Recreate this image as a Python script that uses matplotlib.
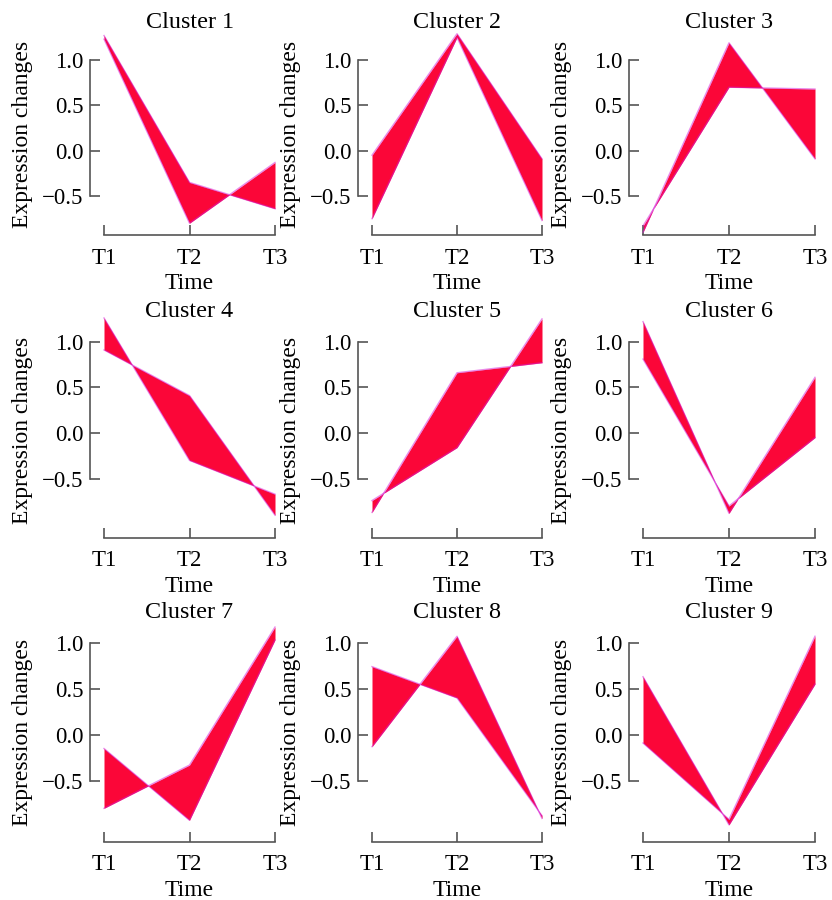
import numpy as np
import matplotlib
matplotlib.use('Agg')
import matplotlib.pyplot as plt

plt.rcParams['font.family'] = ['Liberation Serif', 'DejaVu Serif']
plt.rcParams['font.size'] = 16.5

# time points and cluster names
times = ['T1', 'T2', 'T3']
titles = ['Cluster %d' % i for i in range(1, 10)]

# the two edge profiles of each cluster band
c1_a = [1.27, -0.35, -0.64]
c1_b = [1.23, -0.80, -0.13]
c2_a = [-0.05, 1.29, -0.09]
c2_b = [-0.75, 1.25, -0.77]
c3_a = [-0.83, 0.70, 0.68]
c3_b = [-0.90, 1.19, -0.09]
c4_a = [1.26, -0.30, -0.67]
c4_b = [0.91, 0.41, -0.90]
c5_a = [-0.74, -0.16, 1.25]
c5_b = [-0.87, 0.66, 0.77]
c6_a = [1.22, -0.88, 0.61]
c6_b = [0.81, -0.80, -0.05]
c7_a = [-0.15, -0.93, 1.03]
c7_b = [-0.80, -0.33, 1.17]
c8_a = [0.74, 0.40, -0.88]
c8_b = [-0.13, 1.07, -0.91]
c9_a = [0.63, -0.98, 0.55]
c9_b = [-0.09, -0.92, 1.07]

bands = [(c1_a, c1_b), (c2_a, c2_b), (c3_a, c3_b),
         (c4_a, c4_b), (c5_a, c5_b), (c6_a, c6_b),
         (c7_a, c7_b), (c8_a, c8_b), (c9_a, c9_b)]

W, H = 832, 900
fig = plt.figure(figsize=(W / 100, H / 100), dpi=100)

# layout in pixels: column x of T1 and T3, row (top px, bottom px, ylim)
cols = [(104, 275), (372, 542), (643, 815)]
rows = [(33, 235, -0.93, 1.298), (322, 538, -1.15, 1.216), (623, 842, -1.166, 1.214)]

spine_col = '#555555'
x = np.arange(3)

for i, (a, b) in enumerate(bands):
    r, c = divmod(i, 3)
    x0, x1 = cols[c]
    top, bot, ylo, yhi = rows[r]
    ax = fig.add_axes([x0 / W, 1 - bot / H, (x1 - x0) / W, (bot - top) / H])

    ax.fill_between(x, a, b, color='#fb0638', lw=0, clip_on=False)
    ax.plot(x, a, color='#d41ad6', lw=1.0, alpha=0.5, clip_on=False)
    ax.plot(x, b, color='#d41ad6', lw=1.0, alpha=0.5, clip_on=False)

    ax.set_xlim(0, 2)
    ax.set_ylim(ylo, yhi)
    ax.set_xticks(x)
    ax.set_xticklabels(times)
    ax.set_yticks([-0.5, 0.0, 0.5, 1.0])
    ax.set_yticklabels(['\u22120.5', '0.0', '0.5', '1.0'])

    for s in ['top', 'right']:
        ax.spines[s].set_visible(False)
    ax.spines['left'].set_position(('outward', 10))
    ax.spines['left'].set_bounds(-0.5, 1.0)
    ax.spines['bottom'].set_bounds(0, 2)
    for s in ['left', 'bottom']:
        ax.spines[s].set_color(spine_col)
        ax.spines[s].set_linewidth(1.2)
    ax.tick_params(direction='in', length=7, width=1.2, color=spine_col)
    ax.tick_params(axis='x', pad=9)
    ax.tick_params(axis='y', pad=5)
    ax.patch.set_visible(False)

    ax.set_title(titles[i], pad=3, fontsize=17.4)
    ax.set_xlabel('Time', labelpad=3, fontsize=17)
    ax.set_ylabel('Expression changes', labelpad=6, fontsize=17)

fig.savefig('out.png', dpi=100)
